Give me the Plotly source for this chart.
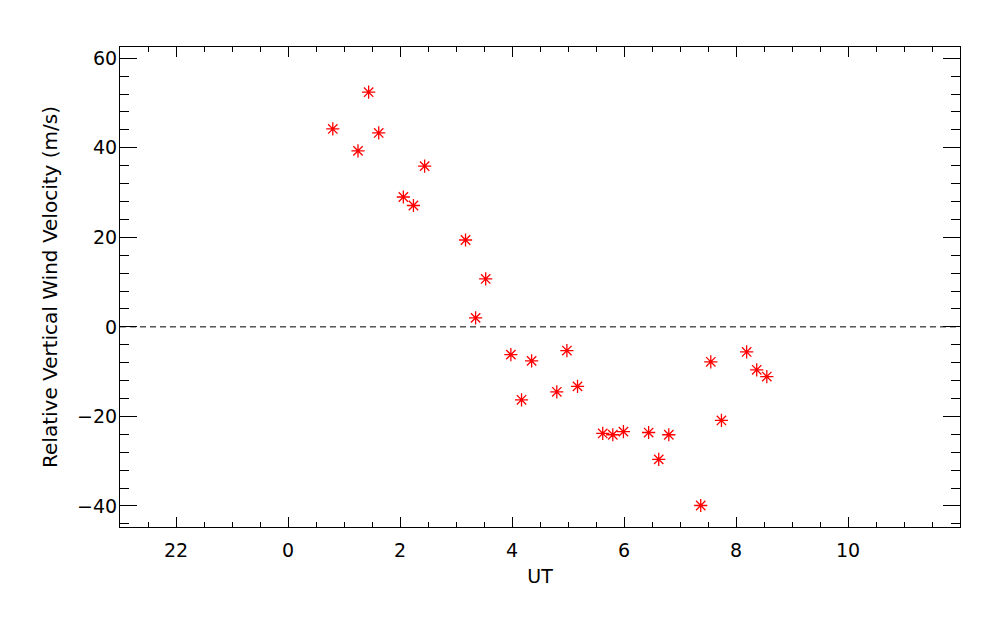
import plotly.graph_objects as go

# Data
ut_hours = [0.80, 1.25, 1.44, 1.62, 2.06, 2.24, 2.44, 3.17, 3.35, 3.53,
            3.98, 4.17, 4.35, 4.80, 4.98, 5.17, 5.62, 5.80, 5.99, 6.44,
            6.62, 6.80, 7.37, 7.55, 7.74, 8.19, 8.37, 8.55]
wind_velocity = [44.2, 39.3, 52.4, 43.3, 29.0, 27.1, 35.9, 19.4, 2.0, 10.7,
                 -6.2, -16.3, -7.6, -14.5, -5.3, -13.3, -23.8, -24.1, -23.4, -23.6,
                 -29.6, -24.1, -39.9, -7.8, -20.9, -5.6, -9.6, -11.1]

x_tickvals = [-2, 0, 2, 4, 6, 8, 10]
x_ticktext = ["22", "0", "2", "4", "6", "8", "10"]
y_tickvals = [-40, -20, 0, 20, 40, 60]

FONT = "DejaVu Sans"

fig = go.Figure()
fig.add_trace(go.Scatter(
    x=ut_hours, y=wind_velocity, mode="markers",
    marker=dict(symbol="asterisk-open", size=11, color="red",
                line=dict(color="red", width=1.3)),
    showlegend=False,
))
fig.add_hline(y=0, line=dict(color="black", width=1, dash="6px,4px"))

# page body has an 8px margin, so offsets compensate for it
fig.update_layout(
    width=1000, height=625,
    margin=dict(l=112, r=48, t=39, b=106, autoexpand=False),
    paper_bgcolor="white", plot_bgcolor="white",
    font=dict(family=FONT, size=19, color="black"),
)
fig.update_xaxes(
    range=[-3, 12], tickvals=x_tickvals, ticktext=x_ticktext,
    showgrid=False, zeroline=False,
    showline=True, linecolor="black", linewidth=1, mirror="allticks",
    ticks="inside", ticklen=10, tickwidth=1, tickcolor="black",
    minor=dict(dtick=0.5, ticks="inside", ticklen=5, tickwidth=1, tickcolor="black", showgrid=False),
    title=dict(text="UT", font=dict(family=FONT, size=19), standoff=9),
    tickfont=dict(family=FONT, size=19),
    ticklabelstandoff=6,
)
fig.update_yaxes(
    range=[-44.7, 62.5], tickvals=y_tickvals,
    showgrid=False, zeroline=False,
    showline=True, linecolor="black", linewidth=1, mirror="allticks",
    ticks="inside", ticklen=17, tickwidth=1, tickcolor="black",
    minor=dict(dtick=4, ticks="inside", ticklen=9, tickwidth=1, tickcolor="black", showgrid=False),
    title=dict(text="Relative Vertical Wind Velocity (m/s)", font=dict(family=FONT, size=20), standoff=14),
    tickfont=dict(family=FONT, size=19),
    ticklabelstandoff=-2,
)

fig.write_html("out.html")
